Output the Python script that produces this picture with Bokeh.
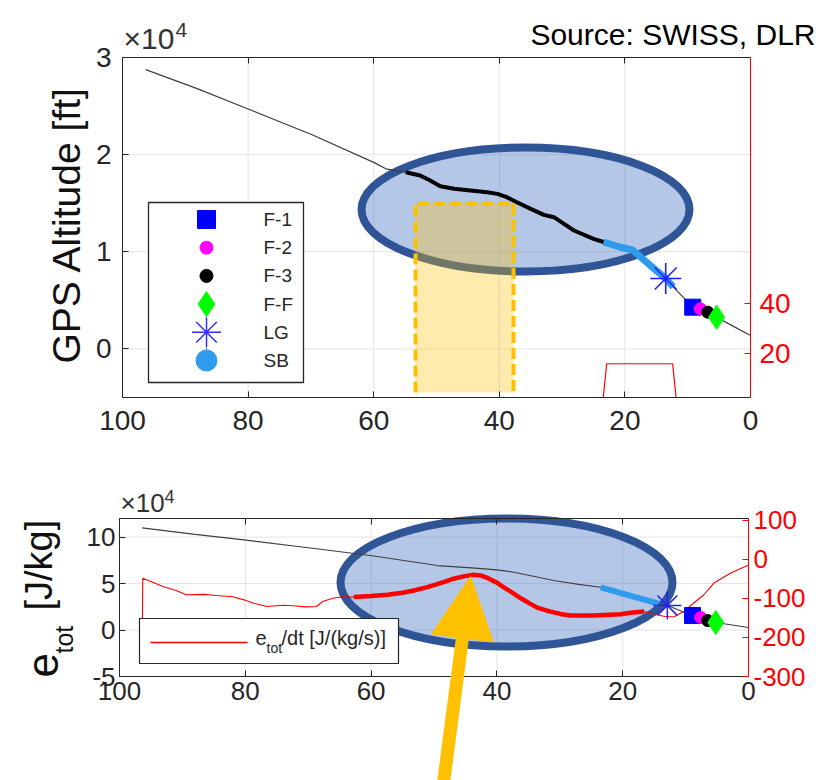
import numpy as np
from bokeh.plotting import figure
from bokeh.models import Range1d, LinearAxis, FixedTicker, Label, Arrow, NormalHead
from bokeh.layouts import column
from bokeh.embed import file_html
from bokeh.resources import INLINE

# ---------------- data ----------------
x_ticks = [100, 80, 60, 40, 20, 0]

# top panel: GPS altitude [ft] vs distance
alt_dist = [96.3, 88.1, 80.0, 70.0, 60.0, 57.9, 54.9, 52.6, 51.0, 49.4, 47.2, 44.6, 41.9,
            40.3, 38.8, 37.2, 35.0, 32.9, 31.3, 29.7, 28.1, 25.0, 23.4, 20.7, 18.8, 16.0,
            13.5, 12.3, 11.2, 9.2, 8.0, 6.8, 5.4, 3.0, 0.0]
alt_ft = [28750, 26800, 24700, 22100, 19200, 18500, 18190, 17850, 17340, 16750, 16480,
          16310, 16130, 15960, 15620, 15100, 14420, 13800, 13560, 12880, 12190, 11330,
          11010, 10470, 10200, 8615, 7250, 6390, 5640, 4300, 4130, 3780, 3260, 2425, 1380]
alt_tick_vals = [0, 10000, 20000, 30000]
alt_tick_labels = ["0", "1", "2", "3"]

# top panel red (right axis) signal
brake_dist = [23.45, 22.9, 12.4, 11.85]
brake_val = [0, 15.9, 15.9, 0]
brake_ticks = [20, 40]

# highlighted segments (distance windows)
hl_top = (18.8, 54.9)
sb_top = (12.3, 23.4)

# event markers
event_names = ["F-1", "F-2", "F-3", "F-F", "LG"]
event_dist_top = [9.2, 8.0, 6.8, 5.4, 13.5]
event_alt_top = [4300, 4130, 3780, 3260, 7250]
event_dist_bot = [8.9, 7.6, 6.5, 5.2, 12.9]
event_etot_bot = [1.56, 1.35, 1.02, 0.81, 2.64]
legend_names = event_names + ["SB"]

# bottom panel: total energy [x1e4 J/kg]
etot_dist = [96.4, 88.0, 80.2, 70.0, 60.1, 49.5, 44.0, 40.0, 37.3, 34.0, 31.0, 27.0,
             23.5, 18.0, 14.3, 12.9, 8.9, 7.6, 6.5, 5.2, 0.0]
etot = [11.0, 10.3, 9.71, 8.85, 8.02, 6.94, 6.68, 6.48, 6.22, 5.76, 5.33, 4.91,
        4.6, 3.55, 2.85, 2.64, 1.56, 1.35, 1.02, 0.81, 0.27]
etot_tick_vals = [-5, 0, 5, 10]
etot_tick_labels = ["-5", "0", "5", "10"]
sb_bot = (14.3, 23.5)

# bottom panel: d e_tot / dt [J/(kg s)] (right axis)
dedt_dist = [96.4, 96.3, 95.0, 93.1, 91.0, 89.4, 86.5, 84.6, 82.0, 80.2, 78.8, 76.6, 74.0,
             72.4, 70.5, 68.7, 67.7, 66.1, 64.5, 62.75, 60.0, 57.4, 55.0, 53.2, 51.2, 49.5,
             48.0, 46.9, 45.3, 43.7, 42.5, 41.5, 40.0, 38.9, 37.5, 36.2, 34.8, 33.6, 31.5,
             29.9, 28.3, 24.6, 20.3, 18.8, 16.6, 15.05, 13.5, 11.9, 10.3, 8.7, 7.1, 5.5,
             2.9, 0.0]
dedt = [-250, -49, -57, -70, -80, -91, -90, -93, -96, -104, -112, -121, -118, -119, -122,
        -121, -108, -100, -96, -97, -94, -91, -86, -80, -72, -64, -56, -50, -44, -40, -42,
        -48, -60, -72, -86, -100, -113, -124, -134, -140, -144, -144, -141, -137, -134,
        -139.5, -146, -148, -133.6, -112, -91, -61, -36, -15]
dedt_ticks = [-300, -200, -100, 0, 100]
dedt_tick_labels = ["-300", "-200", "-100", "0", "100"]
hl_bot = (16.6, 62.75)

# axis limits
X_LIM = (100, 0)
ALT_LIM = (-5000, 30000)
BRAKE_LIM = (2.4, 138.4)
ETOT_LIM = (-5, 12)
DEDT_LIM = (-300, 104)

# ---------------- styling / layout ----------------
W = 838
H_TOP, H_BOT = 468, 312
FONT = "Liberation Sans"
AX = "#262626"
GRID = "#E3E3E3"
RED = "#FF0000"
SBBLUE = "#2F9BEF"
ELL_LINE = "#2F5597"
ELL_FILL = "#4472C4"
YEL = "#FFC000"


class Box:
    """Axes box of one panel, in canvas pixels, and the data limits it shows."""

    def __init__(self, left, right, top, bottom, height, xlim):
        self.l, self.r, self.t, self.b, self.h = left, right, top, bottom, height
        self.xlim = xlim

    def x_full(self):
        x0, x1 = self.xlim
        k = (x1 - x0) / (self.r - self.l)
        return x0 - k * self.l, x1 + k * (W - self.r)

    def y_full(self, lim):
        y0, y1 = lim
        k = (y1 - y0) / (self.b - self.t)
        return y0 - k * (self.h - self.b), y1 + k * self.t

    def X(self, px):
        x0, x1 = self.xlim
        return x0 + (px - self.l) * (x1 - x0) / (self.r - self.l)

    def Y(self, py, lim):
        y0, y1 = lim
        return y0 + (self.b - py) * (y1 - y0) / (self.b - self.t)

    def DX(self, dpx):
        return abs(dpx * (self.xlim[1] - self.xlim[0]) / (self.r - self.l))

    def DY(self, dpx, lim):
        return abs(dpx * (lim[1] - lim[0]) / (self.b - self.t))


def style_axis(ax, size, color=AX, standoff=8):
    ax.major_label_text_font = FONT
    ax.major_label_text_font_size = size
    ax.major_label_text_color = color
    ax.axis_line_color = color
    ax.major_tick_line_color = color
    ax.major_tick_in = 6
    ax.major_tick_out = 0
    ax.minor_tick_line_color = None
    ax.major_label_standoff = standoff


def seg(xs, ys, lo, hi):
    xs = np.asarray(xs, float)
    ys = np.asarray(ys, float)
    m = (xs >= lo) & (xs <= hi)
    return xs[m], ys[m]


def make_fig(box, ylim, height):
    p = figure(width=W, height=height, x_range=Range1d(*box.x_full()),
               y_range=Range1d(*box.y_full(ylim)), output_backend="svg", toolbar_location=None,
               x_axis_location=None, y_axis_location=None, min_border=0,
               min_border_left=0, min_border_right=0, min_border_top=0, min_border_bottom=0)
    p.outline_line_color = None
    p.background_fill_color = "white"
    p.border_fill_color = "white"
    p.xgrid.visible = False
    p.ygrid.visible = False
    return p


def add_box_axes(p, ylim, yticks, ylabels, rlim, rname, rticks, rlabels, fs, stand):
    gx = [t for t in x_ticks if min(X_LIM) < t < max(X_LIM)]
    gy = [t for t in yticks if ylim[0] < t < ylim[1]]
    p.segment(x0=gx, x1=gx, y0=[ylim[0]] * len(gx), y1=[ylim[1]] * len(gx),
              line_color=GRID, line_width=1)
    p.segment(x0=[X_LIM[0]] * len(gy), x1=[X_LIM[1]] * len(gy), y0=gy, y1=gy,
              line_color=GRID, line_width=1)
    xa = LinearAxis(fixed_location=ylim[0], bounds=(min(X_LIM), max(X_LIM)),
                    ticker=FixedTicker(ticks=x_ticks))
    style_axis(xa, fs["x"], standoff=stand["x"])
    p.add_layout(xa, "below")
    ta = LinearAxis(fixed_location=ylim[1], bounds=(min(X_LIM), max(X_LIM)),
                    ticker=FixedTicker(ticks=x_ticks))
    style_axis(ta, fs["x"])
    ta.major_label_text_color = None
    p.add_layout(ta, "above")
    ya = LinearAxis(fixed_location=X_LIM[0], bounds=ylim, ticker=FixedTicker(ticks=yticks),
                    major_label_overrides={v: l for v, l in zip(yticks, ylabels)})
    style_axis(ya, fs["y"], standoff=stand["y"])
    p.add_layout(ya, "left")
    ra = LinearAxis(y_range_name=rname, fixed_location=X_LIM[1], bounds=rlim,
                    ticker=FixedTicker(ticks=rticks),
                    major_label_overrides={v: l for v, l in zip(rticks, rlabels)})
    style_axis(ra, fs["r"], color=RED, standoff=stand["r"])
    p.add_layout(ra, "right")


def text(p, box, lim, px, py, s, size, color=AX, angle=0.0, align="left", base="alpha"):
    """Place text; (px, py) is the baseline start point (base='alpha') or centre line."""
    if base == "alpha":
        if angle == 0:
            py = py - 0.35 * size
        else:
            px = px - 0.35 * size
    p.add_layout(Label(x=box.X(px), y=box.Y(py, lim), text=s, text_font=FONT,
                       text_font_size=f"{size}px", text_color=color, angle=angle,
                       text_align=align, text_baseline="middle"))


# ================= TOP PANEL =================
TB = Box(122, 750, 57, 397, H_TOP, X_LIM)
top = make_fig(TB, ALT_LIM, H_TOP)
top.extra_y_ranges = {"red": Range1d(*TB.y_full(BRAKE_LIM))}
add_box_axes(top, ALT_LIM, alt_tick_vals, alt_tick_labels, BRAKE_LIM, "red", brake_ticks,
             [str(t) for t in brake_ticks], fs=dict(x="28px", y="28px", r="28px"),
             stand=dict(x=13, y=11, r=9))

# highlight ellipse and dashed box (annotation shapes, placed in pixels)
top.ellipse(x=TB.X(525), y=TB.Y(209, ALT_LIM), width=TB.DX(328), height=TB.DY(124, ALT_LIM),
            fill_color=ELL_FILL, fill_alpha=0.4, line_color=ELL_LINE, line_width=8)
bx0, bx1 = TB.X(415), TB.X(513)
by0, by1 = TB.Y(392, ALT_LIM), TB.Y(202.7, ALT_LIM)
top.quad(left=bx0, right=bx1, bottom=by0, top=by1, fill_color=YEL, fill_alpha=0.32, line_color=None)
top.line([bx0, bx0, bx1, bx1], [by0, by1, by1, by0], line_color=YEL, line_width=4, line_dash="11 5")

top.line(brake_dist, np.maximum(brake_val, BRAKE_LIM[0]), y_range_name="red",
         line_color=RED, line_width=1.2)
top.line(alt_dist, alt_ft, line_color="#404040", line_width=1.3)
hx, hy = seg(alt_dist, alt_ft, *hl_top)
top.line(hx, hy, line_color="black", line_width=4)
sx, sy = seg(alt_dist, alt_ft, *sb_top)
top.line(sx, sy, line_color=SBBLUE, line_width=7)

mk = dict(
    sq=dict(marker="square", size=16, fill_color="#0000FF", line_color="#0000FF"),
    f2=dict(marker="circle", size=12, fill_color="#FF00FF", line_color="#FF00FF"),
    f3=dict(marker="circle", size=12, fill_color="black", line_color="black"),
    ff=dict(marker="diamond", size=24, fill_color="#00FF00", line_color="#00FF00"),
    lg=dict(marker="asterisk", size=31, line_color="#2020FF", line_width=1.6),
)
keys = ["sq", "f2", "f3", "ff", "lg"]
for k, xd, yd in zip(keys, event_dist_top, event_alt_top):
    top.scatter([xd], [yd], **mk[k])

# legend (box, symbols and names), laid out in pixels
leg_mk = [
    dict(marker="square", size=18, fill_color="#0000FF", line_color="#0000FF"),
    dict(marker="circle", size=13, fill_color="#FF00FF", line_color="#FF00FF"),
    dict(marker="circle", size=13, fill_color="black", line_color="black"),
    dict(marker="diamond", size=25, fill_color="#00FF00", line_color="#00FF00"),
    dict(marker="asterisk", size=29, line_color="#3030FF", line_width=1.5),
    dict(marker="circle", size=21, fill_color=SBBLUE, line_color=SBBLUE),
]
top.quad(left=TB.X(148), right=TB.X(303), top=TB.Y(202, ALT_LIM), bottom=TB.Y(382, ALT_LIM),
         fill_color="white", line_color=AX, line_width=1.3)
row_y = [219 + 28.2 * i for i in range(len(legend_names))]
top.segment(x0=[TB.X(206)], x1=[TB.X(206)],
            y0=[TB.Y(row_y[3], ALT_LIM)], y1=[TB.Y(row_y[5], ALT_LIM)],
            line_color="#3030FF", line_width=1, line_alpha=0.7)
for name, spec, ry in zip(legend_names, leg_mk, row_y):
    top.scatter([TB.X(206)], [TB.Y(ry, ALT_LIM)], **spec)
    text(top, TB, ALT_LIM, 263, ry, name, 19, base="mid")

text(top, TB, ALT_LIM, 123, 48, "\u00d710", 30, color="#333333")
text(top, TB, ALT_LIM, 175, 37, "4", 21, color="#333333")
text(top, TB, ALT_LIM, 815, 44, "Source: SWISS, DLR", 30, color="black", align="right")
text(top, TB, ALT_LIM, 80, 363, "GPS Altitude [ft]", 39, color="#111111", angle=np.pi / 2)

# ================= BOTTOM PANEL =================
BB = Box(119, 748, 50, 208, H_BOT, X_LIM)
bot = make_fig(BB, ETOT_LIM, H_BOT)
bot.extra_y_ranges = {"red": Range1d(*BB.y_full(DEDT_LIM))}
add_box_axes(bot, ETOT_LIM, etot_tick_vals, etot_tick_labels, DEDT_LIM, "red", dedt_ticks,
             dedt_tick_labels, fs=dict(x="26px", y="26px", r="26px"),
             stand=dict(x=5, y=4, r=5))

bot.ellipse(x=BB.X(506), y=BB.Y(114, ETOT_LIM), width=BB.DX(332), height=BB.DY(128, ETOT_LIM),
            fill_color=ELL_FILL, fill_alpha=0.4, line_color=ELL_LINE, line_width=8)
bot.line(etot_dist, etot, line_color="#404040", line_width=1.2)
bot.line(dedt_dist, dedt, y_range_name="red", line_color=RED, line_width=1.1)
rx, ry_ = seg(dedt_dist, dedt, *hl_bot)
bot.line(rx, ry_, y_range_name="red", line_color=RED, line_width=4.5)
sx2, sy2 = seg(etot_dist, etot, *sb_bot)
bot.line(sx2, sy2, line_color=SBBLUE, line_width=6)
mk2 = dict(mk)
mk2["lg"] = dict(marker="asterisk", size=28, line_color="#2020FF", line_width=1.5)
for k, xd, yd in zip(keys, event_dist_bot, event_etot_bot):
    bot.scatter([xd], [yd], **mk2[k])

# legend of the bottom panel
bot.quad(left=BB.X(139), right=BB.X(398), top=BB.Y(150, ETOT_LIM), bottom=BB.Y(195, ETOT_LIM),
         fill_color="white", line_color=AX, line_width=1.2)
bot.line([BB.X(150), BB.X(247)], [BB.Y(174, ETOT_LIM)] * 2, line_color=RED, line_width=1.5)
text(bot, BB, ETOT_LIM, 255, 176, "e", 20)
text(bot, BB, ETOT_LIM, 266, 184, "tot", 14)
text(bot, BB, ETOT_LIM, 281, 176, "/dt [J/(kg/s)]", 20)

# y label  e_tot [J/kg]
text(bot, BB, ETOT_LIM, 57, 209, "e", 44, color="#111111", angle=np.pi / 2)
text(bot, BB, ETOT_LIM, 72, 185, "tot", 25, color="#111111", angle=np.pi / 2)
text(bot, BB, ETOT_LIM, 52, 142, "[J/kg]", 38, color="#111111", angle=np.pi / 2)

text(bot, BB, ETOT_LIM, 120, 44, "\u00d710", 26, color="#333333")
text(bot, BB, ETOT_LIM, 164, 34, "4", 18, color="#333333")

# yellow arrow pointing at the energy-rate bump
bot.add_layout(Arrow(end=NormalHead(size=62, fill_color=YEL, line_color=YEL),
                     x_start=BB.X(442), y_start=BB.Y(322, ETOT_LIM),
                     x_end=BB.X(470), y_end=BB.Y(108, ETOT_LIM),
                     line_color=YEL, line_width=13))

page = column(top, bot, spacing=0)
open("out.html", "w").write(file_html(page, INLINE))
